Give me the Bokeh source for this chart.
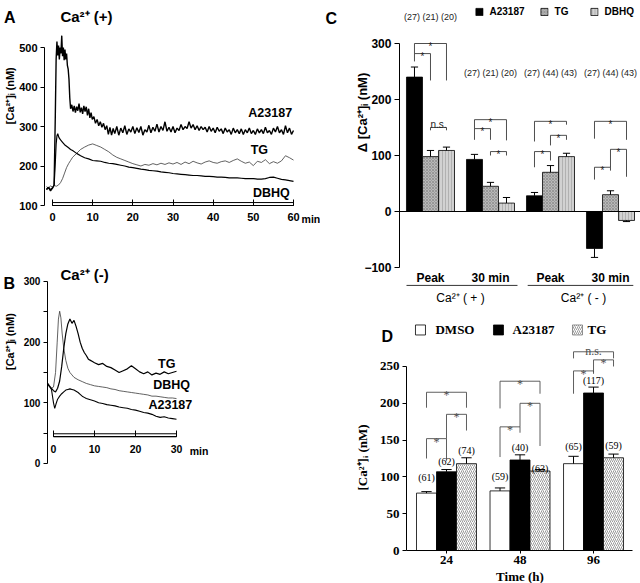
import math
from bokeh.plotting import figure
from bokeh.layouts import row, column
from bokeh.models import Range1d, FixedTicker, BoxAnnotation, Label, Legend, LegendItem
from bokeh.core.properties import value
from bokeh.embed import file_html
from bokeh.resources import INLINE

SANS = "Liberation Sans"
SERIF = "Liberation Serif"

# ======================= DATA =======================
# ---- Panel A: Ca2+ (+) traces, time (min) vs [Ca2+]i (nM)
a_time_a23187 = [-1.5, -1.0, -0.5, 0, 0.4, 0.7, 0.9, 1.1, 1.3, 1.5, 1.7, 1.9, 2.1, 2.3, 2.5, 2.7, 2.9,
                 3.1, 3.3, 3.5, 3.7, 3.9, 4.1, 4.3, 4.5, 4.8, 5.1, 5.4, 5.7, 6.0, 6.3, 6.6, 6.9, 7.2,
                 7.5, 7.8, 8.1, 8.4, 8.7, 9.0, 9.3, 9.6, 9.9, 10.3, 10.7, 11.1, 11.5, 11.9, 12.3, 12.7,
                 13.1, 13.5, 13.9, 14.3, 14.7, 15.1, 15.5,
                 16, 16.5, 17, 17.5, 18, 18.5, 19, 19.5, 20, 20.5, 21, 21.5, 22, 22.5, 23, 23.5, 24, 24.5,
                 25, 25.5, 26, 26.5, 27, 27.5, 28, 28.5, 29, 29.5, 30, 30.5, 31, 31.5, 32, 32.5, 33, 33.5,
                 34, 34.5, 35, 35.5, 36, 36.5, 37, 37.5, 38, 38.5, 39, 39.5, 40, 40.5, 41, 41.5, 42, 42.5,
                 43, 43.5, 44, 44.5, 45, 45.5, 46, 46.5, 47, 47.5, 48, 48.5, 49, 49.5, 50, 50.5, 51, 51.5,
                 52, 52.5, 53, 53.5, 54, 54.5, 55, 55.5, 56, 56.5, 57, 57.5, 58, 58.5, 59, 59.5, 60]
a_ca_a23187 = [140, 146, 137, 144, 152, 330, 470, 515, 480, 505, 470, 500, 485, 530, 478, 500, 468,
               495, 470, 485, 455, 445, 420, 372, 345, 355, 338, 352, 335, 350, 340, 358, 336, 348,
               332, 352, 338, 350, 328, 345, 322, 335, 318, 325, 308, 318, 302, 312, 298, 308,
               292, 302, 280, 298, 278, 295, 282,
               300, 278, 296, 284, 302, 280, 294, 286, 300, 282, 297, 285, 300, 278, 292, 286, 303, 284,
               298, 288, 306, 286, 300, 290, 312, 288, 298, 286, 300, 284, 296, 290, 305, 292, 300, 295,
               312, 296, 305, 292, 302, 290, 300, 292, 298, 286, 300, 288, 296, 284, 298, 288, 294, 282,
               296, 286, 292, 280, 296, 284, 292, 282, 294, 280, 292, 284, 296, 282, 290, 280, 294, 284,
               292, 282, 298, 284, 290, 280, 296, 286, 300, 284, 292, 280, 302, 284, 296, 280, 290]
a_time_tg = [-1.5, -1, -0.5, 0, 0.5, 1, 1.5, 2, 2.5, 3, 3.5, 4, 4.5, 5, 6, 7, 8, 9, 10, 11, 12, 13, 14,
             15, 16, 17, 18, 19, 20, 21, 22, 23, 24, 25, 26, 27, 28, 29, 30, 31, 32, 33, 34, 35, 36, 37,
             38, 39, 40, 41, 42, 43, 44, 45, 46, 47, 48, 49, 50, 51, 52, 53, 54, 55, 56, 57, 58, 59, 60]
a_ca_tg = [148, 144, 150, 146, 150, 149, 152, 158, 168, 182, 196, 206, 214, 222, 232, 242, 248, 253, 256,
           252, 248, 242, 236, 228, 222, 218, 214, 210, 206, 203, 200, 204, 202, 206, 203, 207, 204, 208,
           205, 209, 204, 210, 206, 212, 208, 205, 210, 213, 209, 207, 211, 213, 209, 214, 218, 212, 207,
           210, 201, 212, 209, 216, 206, 211, 207, 213, 226, 221, 215]
a_time_dbhq = [-1.5, -1, -0.5, 0, 0.4, 0.7, 0.9, 1.1, 1.3, 1.6, 2, 2.5, 3, 3.5, 4, 4.5, 5, 6, 7, 8, 9, 10,
               11, 12, 13, 14, 15, 16, 17, 18, 19, 20, 21, 22, 23, 24, 25, 26, 27, 28, 29, 30, 31, 32, 33,
               34, 35, 36, 37, 38, 39, 40, 41, 42, 43, 44, 45, 46, 47, 48, 49, 50, 51, 52, 53, 54, 55, 56,
               57, 58, 59, 60]
a_ca_dbhq = [142, 146, 140, 145, 152, 210, 255, 276, 282, 272, 266, 260, 254, 250, 246, 242, 239, 232,
             226, 221, 218, 214, 213, 212, 209, 207, 206, 204, 202, 200, 197, 196, 194, 192, 191, 189,
             188, 187, 185, 184, 183, 181, 180, 179, 178, 177, 176, 176, 175, 174, 174, 173, 172, 172,
             171, 170, 170, 170, 169, 168, 168, 168, 167, 167, 168, 171, 172, 169, 166, 165, 163, 161]
a_names = ["A23187", "TG", "DBHQ"]
a_xticks = [0, 10, 20, 30, 40, 50, 60]
a_yticks = [100, 200, 300, 400, 500]

# ---- Panel B: Ca2+ (-) traces
b_time_tg = [-1.5, -1, -0.5, 0, 0.5, 1, 1.5, 2, 2.5, 3, 3.5, 4, 4.5, 5, 5.5, 6, 6.5, 7, 7.5, 8, 8.5, 9,
             9.5, 10, 11, 12, 13, 14, 15, 16, 17, 18, 19, 20, 21, 22, 23, 24, 25, 26, 27, 28, 29, 30]
b_ca_tg = [133, 128, 124, 120, 118, 124, 136, 160, 190, 214, 230, 238, 231, 236, 226, 214, 200, 190,
           183, 178, 172, 170, 168, 166, 163, 165, 160, 158, 154, 150, 153, 156, 161, 156, 151, 148, 151,
           146, 149, 147, 151, 148, 150, 152]
b_time_dbhq = [-1.5, -1, -0.5, 0, 0.5, 0.9, 1.2, 1.5, 1.8, 2.1, 2.5, 3, 3.5, 4, 4.5, 5, 6, 7, 8, 9, 10,
               11, 12, 13, 14, 15, 16, 17, 18, 19, 20, 21, 22, 23, 24, 25, 26, 27, 28, 29, 30]
b_ca_dbhq = [131, 127, 124, 126, 150, 200, 238, 251, 240, 215, 190, 170, 157, 150, 146, 142, 138, 135,
             132, 130, 128, 127, 126, 125, 123, 122, 120, 119, 118, 117, 116, 115, 114, 113, 111, 111,
             110, 109, 108, 108, 107]
b_time_a23187 = [-1.5, -1, -0.5, 0, 0.3, 0.6, 1, 1.5, 2, 2.5, 3, 3.5, 4, 4.5, 5, 5.5, 6, 6.5, 7, 7.5, 8,
                 9, 10, 11, 12, 13, 14, 15, 16, 17, 18, 19, 20, 21, 22, 23, 24, 25, 26, 27, 28, 29, 30]
b_ca_a23187 = [130, 127, 122, 100, 91, 98, 106, 111, 115, 118, 121, 122, 123, 122, 121, 119, 117, 114,
               111, 109, 107, 105, 103, 100, 99, 97, 96, 95, 93, 92, 91, 89, 88, 86, 84, 83, 81, 78, 76,
               77, 75, 74, 73]
b_names = ["TG", "DBHQ", "A23187"]
b_xticks = [0, 10, 20, 30]
b_yticks = [0, 100, 200, 300]
b_yminor = [50, 150, 250]

# ---- Panel C: change in [Ca2+]i (nM), mean and SEM
c_groups = ["Peak", "30 min", "Peak", "30 min"]
c_conditions = ["Ca²⁺ ( + )", "Ca²⁺ ( - )"]
c_a23187 = [240, 93, 28, -66]
c_a23187_err = [18, 9, 6, 16]
c_tg = [98, 45, 70, 30]
c_tg_err = [11, 7, 12, 7]
c_dbhq = [109, 15, 98, -16]
c_dbhq_err = [6, 10, 6, 2]
c_n = ["(27) (21) (20)", "(27) (21) (20)", "(27) (44) (43)", "(27) (44) (43)"]
c_yticks = [-100, 0, 100, 200, 300]
# significance brackets: (group, bar i, bar j, top, left leg end, right leg end, text)
c_brackets = [(0, 0, 1, 282, 268, 234, "*"), (0, 0, 2, 300, 282, 234, "*"), (0, 1, 2, 150, 145, 145, "n.s."),
              (1, 0, 1, 148, 128, 128, "*"), (1, 0, 2, 164, 148, 127, "*"), (1, 1, 2, 107, 100, 100, "*"),
              (2, 0, 1, 107, 79, 91, "*"), (2, 0, 2, 161, 125, 155, "*"), (2, 1, 2, 136, 118, 128, "*"),
              (3, 0, 1, 79, 57, 73, "*"), (3, 0, 2, 161, 130, 128, "*"), (3, 1, 2, 111, 79, 62, "*")]

# ---- Panel D: resting [Ca2+]i (nM) after 24/48/96 h
d_times = ["24", "48", "96"]
d_series = ["DMSO", "A23187", "TG"]
d_dmso = [78, 81, 118]
d_dmso_err = [2, 4, 10]
d_a23187 = [107, 123, 214]
d_a23187_err = [3, 7, 8]
d_tg = [118, 108, 126]
d_tg_err = [8, 2, 5]
d_n_dmso = ["(61)", "(59)", "(65)"]
d_n_a23187 = ["(62)", "(40)", "(117)"]
d_n_tg = ["(74)", "(63)", "(59)"]
d_yticks = [0, 50, 100, 150, 200, 250]
d_brackets = [(0, 0, 1, 152, 125, 122, "*"), (0, 1, 2, 185, 152, 163, "*"), (0, 0, 2, 215, 194, 194, "*"),
              (1, 0, 1, 168, 127, 160, "*"), (1, 1, 2, 200, 168, 142, "*"), (1, 0, 2, 230, 193, 213, "*"),
              (2, 0, 1, 244, 213, 240, "*"), (2, 1, 2, 259, 242, 250, "*"), (2, 0, 2, 270, 261, 261, "n.s.")]


# ======================= HELPERS =======================
def base_fig(w, h, xr, yr):
    p = figure(width=w, height=h, x_range=Range1d(*xr), y_range=Range1d(*yr),
               output_backend="svg", toolbar_location=None,
               min_border_left=0, min_border_right=0, min_border_top=0, min_border_bottom=0)
    p.title.visible = False
    p.outline_line_color = None
    p.xgrid.visible = False
    p.ygrid.visible = False
    p.background_fill_color = "white"
    p.border_fill_color = "white"
    return p


def style_axis(ax, font, size, ticks, loc, minor=None, bounds=None, tick_in=0, tick_out=4, standoff=3):
    ax.fixed_location = loc
    ax.ticker = FixedTicker(ticks=ticks, minor_ticks=minor or [])
    ax.major_label_text_font = font
    ax.major_label_text_font_size = size
    ax.major_label_text_font_style = "bold"
    ax.major_label_text_color = "black"
    ax.major_tick_in = tick_in
    ax.major_tick_out = tick_out
    ax.minor_tick_in = 0
    ax.minor_tick_out = tick_out if minor else 0
    ax.major_label_standoff = standoff
    ax.axis_line_color = "black"
    ax.axis_line_width = 1
    ax.major_tick_line_color = "black"
    ax.minor_tick_line_color = "black"
    if bounds is not None:
        ax.bounds = bounds


def lab(p, x, y, text, size, font=SANS, style="bold", align="left", baseline="alphabetic", angle=0):
    p.add_layout(Label(x=x, y=y, text=text, text_font=font, text_font_size=size,
                       text_font_style=style, text_align=align, text_baseline=baseline,
                       text_color="black", angle=angle))


def draw_brackets(p, brackets, xpos, color, width, star_font, star_size, star_dy, ns_dy):
    x0, y0, x1, y1 = [], [], [], []
    sx, sy, st = [], [], []
    nx, ny, nt = [], [], []
    for g, i, j, top, lb, rb, txt in brackets:
        xa, xb = xpos[i][g], xpos[j][g]
        x0 += [xa, xa, xb]
        y0 += [top, top, top]
        x1 += [xb, xa, xb]
        y1 += [top, lb, rb]
        if txt == "*":
            sx.append((xa + xb) / 2); sy.append(top + star_dy); st.append(txt)
        else:
            nx.append((xa + xb) / 2); ny.append(top + ns_dy); nt.append(txt)
    p.segment(x0=x0, y0=y0, x1=x1, y1=y1, line_color=color, line_width=width)
    p.text(x=sx, y=sy, text=st, text_font=value(star_font), text_font_size=star_size,
           text_align="center", text_baseline="alphabetic", text_color=color)
    p.text(x=nx, y=ny, text=nt, text_font=value(star_font), text_font_size=star_size,
           text_align="center", text_baseline="alphabetic", text_color=color)


def error_bars(p, xs, vals, errs, cap_half, color="black", width=1):
    ends = [v + e if v >= 0 else v - e for v, e in zip(vals, errs)]
    p.segment(x0=xs, y0=vals, x1=xs, y1=ends, line_color=color, line_width=width)
    p.segment(x0=[x - cap_half for x in xs], y0=ends, x1=[x + cap_half for x in xs], y1=ends,
              line_color=color, line_width=width)


VERT = math.pi / 2

# ======================= PANEL A =======================
pA = base_fig(320, 260, (-12.95, 66.72), (-39.2, 619.0))
pA.line(a_time_tg, a_ca_tg, line_color="#3a3a3a", line_width=0.8)
pA.line(a_time_dbhq, a_ca_dbhq, line_color="black", line_width=1.2)
pA.line(a_time_a23187, a_ca_a23187, line_color="black", line_width=1.4)
pA.text(x=[54.2, 51.5, 54.5], y=[333, 241.8, 131.6], text=a_names, text_font=value(SANS),
        text_font_style="bold", text_font_size="12.5px", text_align="center",
        text_baseline="middle", text_color="black")
style_axis(pA.xaxis[0], SANS, "11px", a_xticks, 100, bounds=(0, 60), tick_in=6, tick_out=0, standoff=7)
style_axis(pA.yaxis[0], SANS, "11px", a_yticks, -1.97, bounds=(100, 500), tick_out=4, standoff=3)
pA.add_layout(BoxAnnotation(left=0, right=60, bottom=100, top=107.5, fill_color=None,
                            line_color="black", line_width=1, line_alpha=1))
lab(pA, -10.5, 378, "[Ca²⁺]ᵢ (nM)", "11px", align="center", baseline="middle", angle=VERT)
lab(pA, -12.05, 576, "A", "16px")
lab(pA, 1.97, 578.5, "Ca²⁺ (+)", "15px")
lab(pA, 62.0, 67.1, "min", "10.5px", baseline="middle")

# ======================= PANEL B =======================
pB = base_fig(320, 323, (-12.93, 65.12), (-197.8, 334.6))
pB.line(b_time_dbhq, b_ca_dbhq, line_color="#3a3a3a", line_width=0.8)
pB.line(b_time_tg, b_ca_tg, line_color="black", line_width=1.2)
pB.line(b_time_a23187, b_ca_a23187, line_color="black", line_width=1.1)
pB.text(x=[27.6, 28.8, 28.5], y=[164.8, 128.6, 95.6], text=b_names, text_font=value(SANS),
        text_font_style="bold", text_font_size="12.5px", text_align="center",
        text_baseline="middle", text_color="black")
style_axis(pB.xaxis[0], SANS, "10.5px", b_xticks, 44, bounds=(0, 30), tick_in=6, tick_out=0, standoff=8)
style_axis(pB.yaxis[0], SANS, "10px", b_yticks, -1.5, minor=b_yminor, bounds=(0, 300), tick_out=4,
           standoff=3)
pB.add_layout(BoxAnnotation(left=0, right=30, bottom=44, top=49, fill_color=None,
                            line_color="black", line_width=1, line_alpha=1))
lab(pB, -10.5, 201, "[Ca²⁺]ᵢ (nM)", "11px", align="center", baseline="middle", angle=VERT)
lab(pB, -12.2, 296.7, "B", "16px")
lab(pB, 1.71, 311.5, "Ca²⁺ (-)", "15px")
lab(pB, 33.2, 19.8, "min", "10.5px", baseline="middle")

# ======================= PANEL C =======================
pC = base_fig(320, 318, (-1.833, 3.5), (-191.1, 376.8))
c_off = [-0.2667, 0.0, 0.2667]
c_w = 0.2667
c_idx = list(range(len(c_groups)))
c_x = [[g + o for g in c_idx] for o in c_off]
rC1 = pC.vbar(x=c_x[0], top=c_a23187, bottom=0, width=c_w, fill_color="black", line_color="black",
              line_width=0.8)
rC2 = pC.vbar(x=c_x[1], top=c_tg, bottom=0, width=c_w, fill_color="#b8b8b8", line_color="black",
              line_width=0.8, hatch_pattern="x", hatch_color="#777777", hatch_scale=3, hatch_weight=0.5)
rC3 = pC.vbar(x=c_x[2], top=c_dbhq, bottom=0, width=c_w, fill_color="#d2d2d2", line_color="black",
              line_width=0.8, hatch_pattern="|", hatch_color="#9a9a9a", hatch_scale=3, hatch_weight=0.6)
error_bars(pC, c_x[0], c_a23187, c_a23187_err, 0.06)
error_bars(pC, c_x[1], c_tg, c_tg_err, 0.06)
error_bars(pC, c_x[2], c_dbhq, c_dbhq_err, 0.06)
draw_brackets(pC, c_brackets, c_x, "#222222", 0.8, SANS, "10px", -5.4, 5)
pC.text(x=c_idx, y=[348.2, 248.2, 248.2, 248.2], text=c_n, text_font=value(SANS), text_font_size="9px",
        text_align="center", text_baseline="middle", text_color="#222222")
pC.text(x=c_idx, y=[-118] * 4, text=c_groups, text_font=value(SANS), text_font_style="bold",
        text_font_size="12px", text_align="center", text_baseline="middle", text_color="black")
pC.segment(x0=[-0.4, 1.62], y0=[-132, -132], x1=[1.45, 3.38], y1=[-132, -132], line_color="black",
           line_width=0.8)
pC.text(x=[0.5, 2.55], y=[-155, -155], text=c_conditions, text_font=value(SANS),
        text_font_size="12px", text_align="center", text_baseline="middle", text_color="black")
style_axis(pC.xaxis[0], SANS, "12px", [], 0, bounds=(-0.517, 3.5), tick_out=0)
style_axis(pC.yaxis[0], SANS, "12px", c_yticks, -0.517, bounds=(-100, 300), tick_out=5, standoff=3)
lab(pC, -1.133, 176.8, "Δ [Ca²⁺]ᵢ (nM)", "13px", align="center", baseline="middle", angle=VERT)
legC = Legend(items=[LegendItem(label="A23187", renderers=[rC1]),
                     LegendItem(label="TG", renderers=[rC2]),
                     LegendItem(label="DBHQ", renderers=[rC3])],
              orientation="horizontal", location="top_right", margin=6, padding=0, spacing=15,
              label_standoff=6, glyph_width=9, glyph_height=9, border_line_alpha=0,
              background_fill_alpha=0, label_text_font=SANS, label_text_font_size="10px",
              label_text_font_style="bold", label_text_color="black")
pC.add_layout(legC)
lab(pC, -1.75, 344.6, "C", "16px")

# ======================= PANEL D =======================
pD = base_fig(320, 265, (-1.714, 2.639), (-44.8, 315.2))
d_off = [-0.272, 0.0, 0.272]
d_w = 0.272
d_idx = list(range(len(d_times)))
d_x = [[g + o for g in d_idx] for o in d_off]
pD.vbar(x=d_x[0], top=d_dmso, bottom=0, width=d_w, fill_color="white", line_color="black",
        line_width=0.8)
pD.vbar(x=d_x[1], top=d_a23187, bottom=0, width=d_w, fill_color="black", line_color="black",
        line_width=0.8)
pD.vbar(x=d_x[2], top=d_tg, bottom=0, width=d_w, fill_color="white", line_color="black",
        line_width=0.8, hatch_pattern="/", hatch_color="#555555", hatch_scale=4, hatch_weight=0.6)
error_bars(pD, d_x[0], d_dmso, d_dmso_err, 0.07)
error_bars(pD, d_x[1], d_a23187, d_a23187_err, 0.07)
error_bars(pD, d_x[2], d_tg, d_tg_err, 0.07)
draw_brackets(pD, d_brackets, d_x, "#4d4d4d", 0.9, SERIF, "12px", -4, 1.4)
pD.text(x=d_x[0] + d_x[1] + d_x[2], y=[99, 101, 141, 121, 140, 231, 136, 112, 142],
        text=d_n_dmso + d_n_a23187 + d_n_tg, text_font=value(SERIF), text_font_size="10px",
        text_align="center", text_baseline="middle", text_color="black")
style_axis(pD.xaxis[0], SERIF, "13px", d_idx, 0, bounds=(-0.544, 2.531), tick_out=3, standoff=2)
pD.xaxis[0].major_label_overrides = {i: t for i, t in zip(d_idx, d_times)}
style_axis(pD.yaxis[0], SERIF, "13px", d_yticks, -0.544, bounds=(0, 250), tick_out=4, standoff=3)
lab(pD, 1.0, -35.3, "Time (h)", "13px", font=SERIF, align="center", baseline="middle")
lab(pD, -1.143, 126.4, "[Ca²⁺]ᵢ (nM)", "13px", font=SERIF, align="center", baseline="middle", angle=VERT)
# legend boxes (DMSO, A23187, TG) drawn with the bar styles
leg_x = [-0.354, 0.707, 1.782]
leg_tx = [-0.150, 0.898, 1.918]
leg_y = 299.6
pD.rect(x=[leg_x[0]], y=[leg_y], width=10, height=10, width_units="screen", height_units="screen",
        fill_color="white", line_color="black", line_width=0.8)
pD.rect(x=[leg_x[1]], y=[leg_y], width=10, height=10, width_units="screen", height_units="screen",
        fill_color="black", line_color="black", line_width=0.8)
pD.rect(x=[leg_x[2]], y=[leg_y], width=10, height=10, width_units="screen", height_units="screen",
        fill_color="white", line_color="#777777", line_width=0.8, hatch_pattern="/",
        hatch_color="#555555", hatch_scale=4, hatch_weight=0.6)
pD.text(x=leg_tx, y=[leg_y] * 3, text=d_series, text_font=value(SERIF), text_font_style="bold",
        text_font_size="13px", text_align="left", text_baseline="middle", text_color="black")
lab(pD, -0.884, 290.8, "D", "16px")

layout = row(column(pA, pB), column(pC, pD))
open("out.html", "w").write(file_html(layout, INLINE))
